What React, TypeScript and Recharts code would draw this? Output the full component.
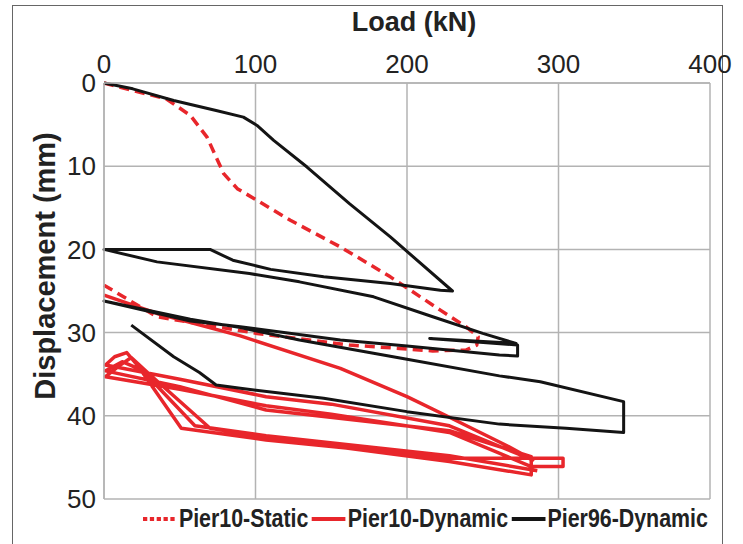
import { LineChart, Line, XAxis, YAxis, CartesianGrid } from "recharts";

// Pier10 static test
const STATIC_LOAD = [0, 19, 41, 57, 68, 74, 79, 88, 101, 123, 156, 189, 222, 239, 247, 246, 239, 217, 195, 162, 101, 35, 0];
const STATIC_DISP = [0, 0.9, 1.9, 3.9, 6.5, 8.9, 10.9, 12.7, 14.1, 16.5, 19.7, 23.3, 27.3, 29.3, 30.5, 31.5, 32.1, 32.2, 31.9, 31.5, 30.1, 28.1, 24.3];

// Pier10 dynamic test (several load cycles)
const DYN10_LOAD = [
  0, 35, 90, 156, 200, 226, 266, 283,
  228, 150, 107, 50, 1,
  7, 15, 22, 51, 107, 228, 283, 303, 303, 282,
  228, 150, 107, 50, 1,
  10, 18, 30, 70, 107, 228, 282, 282,
  228, 107, 50, 1,
  12, 25, 60, 107, 228, 286,
];
const DYN10_DISP = [
  25.5, 27.7, 30.4, 34.3, 37.7, 40.0, 43.6, 45.3,
  41.2, 38.6, 37.7, 35.6, 33.9,
  32.9, 32.4, 33.9, 41.5, 42.9, 45.1, 45.1, 45.1, 46.1, 46.1,
  42.0, 39.8, 38.8, 36.8, 35.3,
  34.0, 33.0, 35.0, 41.5, 42.6, 45.5, 47.1, 44.9,
  41.8, 39.3, 36.5, 34.6,
  33.5, 34.5, 41.2, 42.4, 44.8, 46.6,
];

// Pier96 dynamic test
const DYN96_LOAD = [
  0, 19, 46, 74, 92, 101, 112, 134, 162, 189, 230,
  222, 189, 145, 110, 85, 70, 0,
  35, 96, 129, 178, 217, 250, 272, 215, 273, 273,
  261, 200, 156, 90, 57, 0,
  57, 90, 129, 200, 261, 288, 343, 343,
  305, 261, 200, 145, 90, 74, 63, 46, 18,
];
const DYN96_DISP = [
  0, 0.7, 2.1, 3.3, 4.1, 5.1, 6.9, 10.1, 14.5, 18.5, 25.0,
  24.9, 24.1, 23.3, 22.4, 21.3, 20.0, 20.0,
  21.5, 22.9, 23.9, 25.7, 28.1, 30.1, 31.3, 30.7, 31.5, 32.8,
  32.7, 31.6, 30.9, 29.3, 28.6, 26.2,
  28.4, 29.4, 30.9, 33.2, 35.2, 35.9, 38.3, 42.0,
  41.5, 41.0, 39.5, 37.9, 36.7, 36.3, 34.8, 32.9, 29.1,
];

const LOAD_TICKS = [0, 100, 200, 300, 400];
const DISP_TICKS = [0, 10, 20, 30, 40, 50];

const zip = (xs: number[], ys: number[]) => xs.map((x, i) => ({ load: x, disp: ys[i] }));

const RED = "#e8262b";
const BLACK = "#141414";
const SERIES = [
  { name: "Pier10-Static", data: zip(STATIC_LOAD, STATIC_DISP), color: RED, dash: "10 6" },
  { name: "Pier10-Dynamic", data: zip(DYN10_LOAD, DYN10_DISP), color: RED, dash: undefined },
  { name: "Pier96-Dynamic", data: zip(DYN96_LOAD, DYN96_DISP), color: BLACK, dash: undefined },
];

const FONT = '"Liberation Sans", Arial, sans-serif';

function XTitle(props: any) {
  const vb = props.viewBox;
  return (
    <text x={vb.x + vb.width / 2 + 7} y={vb.y - 9} textAnchor="middle" fontFamily={FONT} fontWeight="bold" fontSize={27} fill="#222">
      Load (kN)
    </text>
  );
}

function YTitle(props: any) {
  const vb = props.viewBox;
  const cx = vb.x + 31;
  const cy = vb.y + vb.height / 2 - 25;
  return (
    <text x={cx} y={cy} transform={`rotate(-90 ${cx} ${cy})`} textAnchor="middle" dominantBaseline="central" fontFamily={FONT} fontWeight="bold" fontSize={29} fill="#222">
      Displacement (mm)
    </text>
  );
}

export default function App() {
  return (
    <div style={{ position: "absolute", left: 0, top: 0, width: 743, height: 544, background: "#fff", overflow: "hidden" }}>
      <div style={{ position: "absolute", left: 12, top: 5, width: 709, height: 600, border: "1.5px solid #666" }} />
      <LineChart width={743} height={544} data={SERIES[0].data} margin={{ top: 40, right: 33, bottom: 45, left: 14 }}>
        <CartesianGrid stroke="#b3b3b3" strokeWidth={1.5} />
        <XAxis
          type="number"
          dataKey="load"
          orientation="top"
          domain={[0, 400]}
          ticks={LOAD_TICKS}
          height={43}
          axisLine={{ stroke: "#b3b3b3", strokeWidth: 1.5 }}
          tickLine={false}
          tick={{ fontSize: 26, fill: "#222", fontFamily: FONT }}
          tickMargin={4}
          label={<XTitle />}
        />
        <YAxis
          type="number"
          dataKey="disp"
          reversed
          domain={[0, 50]}
          ticks={DISP_TICKS}
          width={90}
          axisLine={{ stroke: "#b3b3b3", strokeWidth: 1.5 }}
          tickLine={false}
          tick={{ fontSize: 26, fill: "#222", fontFamily: FONT }}
          tickMargin={2}
          label={<YTitle />}
        />
        {SERIES.map((s) => (
          <Line
            key={s.name}
            name={s.name}
            data={s.data}
            dataKey="disp"
            type="linear"
            stroke={s.color}
            strokeWidth={s.dash ? 3.5 : s.color === RED ? 3.5 : 3}
            strokeDasharray={s.dash}
            strokeLinejoin="round"
            dot={false}
            activeDot={false}
            isAnimationActive={false}
          />
        ))}
      </LineChart>
      <div
        style={{
          position: "absolute",
          left: 143,
          top: 504,
          display: "flex",
          alignItems: "center",
          fontFamily: FONT,
          fontWeight: "bold",
          fontSize: 25,
          color: "#222",
          whiteSpace: "nowrap",
          transform: "scaleX(0.855)",
          transformOrigin: "0 0",
        }}
      >
        {SERIES.map((s) => (
          <span key={s.name} style={{ display: "flex", alignItems: "center", marginRight: 4 }}>
            <svg width={40} height={10} style={{ marginRight: 2 }}>
              <line x1={0} y1={5} x2={40} y2={5} stroke={s.color} strokeWidth={4} strokeDasharray={s.dash ? "5 3" : undefined} />
            </svg>
            {s.name}
          </span>
        ))}
      </div>
    </div>
  );
}
